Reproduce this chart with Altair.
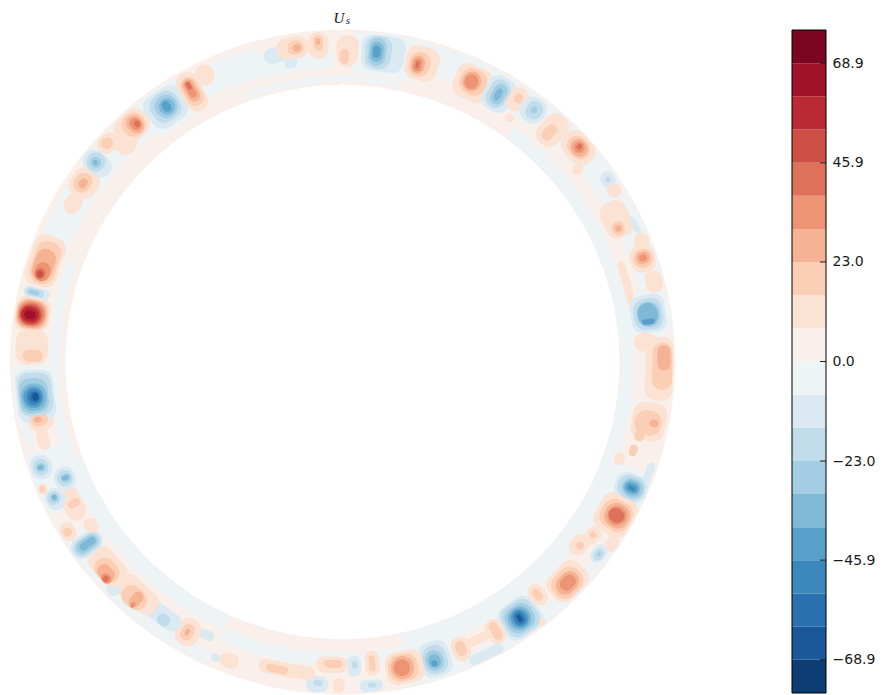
import altair as alt
import pandas as pd

LEVELS = [-76.6, -68.9, -61.3, -53.6, -45.9, -38.3, -30.6, -23.0, -15.3, -7.66, 0,
          7.66, 15.3, 23.0, 30.6, 38.3, 45.9, 53.6, 61.3, 68.9, 76.6]
COLORS = ["#0c3d74", "#1a5899", "#2a71b2", "#3b88bd", "#57a0ca", "#7eb9d7", "#a2cde3",
          "#c1ddec", "#dbeaf2", "#eef3f5", "#f9f0eb", "#fce2d3", "#fbceb6", "#f6b393",
          "#ed9475", "#dd715a", "#cd4e45", "#bb2a34", "#9f1228", "#7a0622"]
TICKS = [-68.9, -45.9, -23.0, 0.0, 23.0, 45.9, 68.9]

# rows: value, start angle, end angle (degrees clockwise from top), inner radius, outer radius
RING = [(4, 0, 360, 277, 332.5)]
BANDS = [
    (-4, 290, 345, 296, 326), (-4, 345, 358, 294, 318), (-4, 340, 372, 280, 286),
    (-4, 8, 38, 300, 330), (-4, 36, 76, 277, 291), (-4, 38, 76, 305, 331),
    (-4, 76, 108, 277, 292), (-4, 108, 168, 277, 298), (-4, 118, 168, 318, 331),
    (-4, 168, 204, 291, 304), (-4, 204, 250, 277, 293), (-4, 204, 240, 318, 331),
    (-4, 250, 290, 283, 293), (-4, 255, 268, 318, 327),
]
RIGHT_TOP = [
    (-4, 1.5, 14, 288, 331), (-11, 3.5, 11.5, 293, 329), (-19, 4.2, 9, 295, 328),
    (-27, 4.8, 8, 298, 326), (-34, 5.2, 7.5, 302, 322), (-42, 5.6, 7, 306, 318),
    (11, 11.8, 18, 292, 326), (19, 12.5, 16.5, 295, 320), (27, 13, 15.5, 298, 316),
    (34, 13.4, 15, 300, 313), (42, 13.8, 14.5, 303, 310),
    (11, 21.5, 28.5, 290, 325), (19, 22.5, 27.5, 296, 322), (27, 23, 26.5, 299, 319),
    (34, 23.4, 26, 301, 316),
    (-11, 27.5, 33, 292, 328), (-19, 28.2, 32, 295, 325), (-27, 29, 31.5, 299, 321),
    (-34, 29.6, 30.8, 303, 316),
    (11, 31.8, 35.5, 303, 328), (19, 33, 34.5, 312, 322), (11, 33.6, 35.2, 292, 300),
    (-11, 34.8, 39.5, 303, 329), (-19, 35.8, 38.8, 307, 326), (-27, 36.7, 37.8, 313, 320),
    (11, 39.8, 44.5, 295, 330), (19, 41, 43, 300, 318),
    (11, 44.5, 51, 305, 332), (19, 45.5, 50, 309, 329), (27, 46.2, 49.5, 311, 327),
    (34, 46.8, 48.8, 314, 325), (42, 47.3, 48.2, 317, 323), (11, 49.8, 51.6, 298, 310),
    (-11, 54, 57, 315, 329), (-19, 55, 56, 319, 325), (11, 56.5, 59, 314, 329),
    (11, 59, 66, 295, 323), (19, 62.8, 65.5, 300, 313), (27, 63.5, 64.8, 303, 310),
    (-11, 63.5, 66.5, 320, 326),
]
RIGHT = [
    (11, 66.5, 69.5, 315, 330), (11, 68.5, 73.5, 305, 330), (19, 69.3, 72.7, 308, 328),
    (27, 69.8, 72, 311, 325), (34, 70.3, 71.5, 314, 322), (11, 73.5, 77.5, 313, 330),
    (11, 70, 79, 291, 299),
    (-4, 76.5, 85.5, 288, 331), (-11, 77.5, 84.5, 292, 327), (-19, 78.2, 84, 295, 324),
    (-27, 78.8, 83.5, 298, 321), (-34, 79, 83.2, 299, 319), (-42, 82, 83, 302, 315),
    (11, 85.5, 97, 303, 331), (19, 86.5, 95, 310, 330), (27, 87, 91.5, 315, 328),
    (11, 84.5, 88, 292, 315),
    (11, 97.5, 104.5, 295, 329), (19, 99, 103.5, 298, 325), (27, 100.5, 101.8, 313, 322),
    (19, 102.5, 105, 301, 311), (19, 105.8, 108, 300, 308), (11, 108, 110.5, 288, 299),
]
RIGHT_BOTTOM = [
    (-4, 110, 117, 295, 332), (-11, 111, 116, 298, 331), (-19, 111.3, 115.7, 301, 329),
    (-27, 111.8, 115.2, 305, 327), (-34, 112.2, 114.8, 307, 324), (-42, 112.7, 114.3, 309, 322),
    (-50, 113.2, 113.9, 312, 319), (-11, 108, 112, 322, 330),
    (11, 115.5, 123, 294, 331), (19, 116.5, 122, 298, 329), (27, 117, 121.5, 302, 327),
    (34, 117.5, 121, 305, 324), (42, 118, 120.5, 306, 322),
    (11, 123, 126.5, 297, 312), (19, 124, 125.2, 301, 308), (11, 122.5, 125.5, 319, 331),
    (-11, 125, 128.5, 313, 327), (-19, 125.8, 128, 316, 325), (-27, 126.4, 127.2, 319, 322),
    (11, 125.5, 129.8, 290, 308), (19, 127, 128.5, 296, 304),
    (11, 130.5, 138, 298, 330), (19, 131.5, 137.5, 302, 328), (27, 132.2, 136.8, 306, 325),
    (34, 132.8, 136, 309, 322),
    (11, 138.5, 141.5, 292, 315), (19, 139.3, 140.8, 297, 310),
    (-4, 140.5, 150, 290, 331), (-11, 141.5, 149, 293, 330), (-19, 142, 148.5, 295, 328),
    (-27, 142.6, 148, 298, 325), (-34, 143.2, 147.5, 300, 323), (-42, 143.7, 147, 302, 321),
    (-50, 144.2, 146.5, 304, 319), (-57, 144.7, 146, 306, 317), (-65, 145, 145.7, 308, 315),
    (11, 141.8, 143.2, 325, 331),
    (11, 148.7, 152, 297, 323), (19, 149.5, 151.2, 300, 319), (11, 151, 156.5, 304, 313),
    (11, 155.8, 159.3, 298, 323), (19, 156.6, 158.5, 302, 318), (-11, 150.5, 157, 321, 331),
]
BOTTOM = [
    (-4, 159, 166.5, 289, 331), (-11, 159.8, 165.5, 293, 329), (-19, 160.5, 165, 297, 326),
    (-27, 161.2, 164.5, 302, 323), (-34, 161.8, 164, 306, 320), (-42, 162.5, 163.6, 312, 318),
    (11, 165, 172, 295, 328), (19, 166, 171.5, 298, 325), (27, 166.8, 171, 300, 323),
    (34, 167.5, 170.5, 303, 320),
    (11, 173, 175.7, 290, 315), (19, 173.8, 175, 295, 311),
    (-11, 176.5, 179, 294, 315), (-19, 177.2, 178.2, 299, 307),
    (-11, 172.8, 177, 319, 331), (-19, 174, 175.5, 322, 327),
    (11, 179.6, 181.7, 316, 331), (-11, 182.5, 186.5, 315, 331), (-19, 183.5, 185.2, 319, 325),
    (11, 179, 185, 295, 311), (19, 180, 183.5, 298, 306),
    (11, 185, 195.5, 306, 320), (19, 190, 194, 310, 318), (11, 199, 202.5, 312, 327),
]
LEFT_BOTTOM = [
    (-11, 202.5, 204, 318, 326), (-11, 205, 208, 300, 310),
    (11, 207.5, 212, 297, 325), (19, 208.7, 211, 303, 320), (27, 209.5, 210.3, 308, 315),
    (-11, 211.5, 221, 302, 320), (-19, 213.5, 216, 308, 320),
    (11, 217, 226, 298, 322), (19, 219, 224, 304, 325), (27, 220, 222, 306, 323),
    (34, 220.4, 221.2, 318, 324),
    (-11, 224, 226.5, 316, 329),
    (11, 225, 233, 298, 325), (19, 226, 231, 304, 325), (27, 226.5, 230, 310, 324),
    (34, 226.5, 228.5, 316, 325), (42, 227, 228, 318, 324),
    (-4, 232, 237.5, 294, 332), (-11, 232.5, 236.5, 297, 331), (-19, 232.9, 236, 299, 329),
    (-27, 233.3, 235.7, 302, 326), (-34, 233.8, 235.2, 304, 322),
    (11, 236.5, 240, 315, 330), (19, 237.5, 239, 319, 328), (11, 235.5, 238.5, 293, 307),
    (11, 239, 246, 295, 315), (19, 241.5, 243, 297, 310),
    (-4, 242, 254, 288, 331), (-11, 242.5, 246.5, 308, 328), (-19, 243.5, 246, 312, 326),
    (-27, 244, 245.5, 315, 322), (-34, 244.4, 245.3, 316, 321),
    (-11, 245, 249.5, 290, 312), (-19, 245.8, 248.8, 293, 309),
    (-27, 246.5, 248, 295, 305), (-34, 246.9, 247.8, 297, 304),
    (-11, 248.5, 253, 308, 330), (-19, 249.3, 252.3, 312, 327),
    (-27, 250, 251.5, 315, 324), (-34, 250.3, 251.2, 317, 323),
    (11, 246, 248, 321, 330), (19, 246.5, 247.6, 323, 329),
]
LEFT = [
    (11, 253.5, 257.5, 303, 315),
    (11, 257, 261.5, 294, 320), (19, 258, 260.5, 300, 317), (27, 258.8, 259.8, 306, 314),
    (-4, 258, 269.5, 287, 330), (-11, 259, 268.5, 290, 328), (-19, 260, 268, 292, 326),
    (-27, 260.5, 267, 296, 325), (-34, 261, 266, 298, 323), (-42, 261.5, 265.5, 301, 321),
    (-50, 262, 265, 303, 318), (-57, 262.5, 264.5, 305, 315), (-65, 262.8, 264.3, 306, 312),
    (11, 269.5, 276, 295, 327), (19, 270, 272.3, 300, 320),
    (11, 275.6, 282, 296, 331), (19, 276, 281.5, 298, 330), (27, 276.2, 281.3, 300, 329),
    (34, 276.5, 281, 301, 328), (42, 276.7, 280.7, 303, 327), (50, 276.9, 280.4, 305, 326),
    (57, 277.3, 280, 307, 325), (65, 277.8, 279.4, 310, 322),
    (-11, 281.7, 283.7, 300, 327), (-19, 282, 283.4, 306, 325), (-27, 282.3, 283.1, 311, 322),
    (11, 284, 293.5, 298, 330), (19, 284.5, 292.5, 301, 326), (27, 285, 291, 304, 324),
    (34, 285, 288.5, 306, 321), (42, 285.3, 287.3, 310, 320), (50, 285.6, 286.8, 312, 318),
]
LEFT_TOP = [
    (11, 298.5, 302.5, 304, 321),
    (11, 302, 307.5, 300, 328), (19, 302.8, 306.5, 307, 324), (27, 303.6, 305.5, 311, 319),
    (-11, 307, 311, 300, 331), (-19, 307.3, 310.8, 308, 327), (-27, 308, 310, 312, 323),
    (-34, 308.5, 309.3, 315, 320),
    (11, 311, 315, 312, 330), (19, 311.8, 314, 316, 327), (11, 313, 317.5, 297, 322),
    (11, 315, 321.5, 302, 330), (19, 316.5, 320.8, 304, 328), (27, 317.5, 320.3, 306, 325),
    (34, 318, 320, 309, 322), (42, 318.7, 319.7, 311, 318),
    (-4, 320.5, 330, 288, 331), (-11, 321.5, 329, 292, 328), (-19, 322.5, 328, 296, 325),
    (-27, 323.3, 327.5, 299, 322), (-34, 324, 327, 302, 318), (-42, 324.7, 326.2, 305, 316),
    (11, 328.8, 333, 288, 330), (19, 329.3, 332.5, 294, 325), (27, 329.8, 332, 299, 323),
    (34, 330.2, 331.5, 303, 321), (42, 330.5, 331.3, 312, 320),
    (11, 332.8, 336, 308, 329),
]
TOP = [
    (-11, 345.5, 349.5, 306, 322), (-11, 349, 351.5, 298, 310),
    (11, 348, 354, 307, 329), (19, 350, 353, 311, 325), (27, 351, 352.5, 314, 321),
    (11, 353.8, 357.5, 304, 331), (19, 354.8, 356.5, 312, 328), (27, 355.2, 356, 318, 325),
    (11, 358.9, 363, 295, 327), (19, 359.5, 361.2, 298, 313),
]

COLS = ["v", "t0", "t1", "r0", "r1"]
base = pd.DataFrame(RING + BANDS, columns=COLS)
blobs = pd.DataFrame(RIGHT_TOP + RIGHT + RIGHT_BOTTOM + BOTTOM + LEFT_BOTTOM + LEFT + LEFT_TOP + TOP,
                     columns=COLS)
blobs["a"] = blobs["v"].abs()
blobs = blobs.sort_values("a", kind="stable").reset_index(drop=True)

bar = pd.DataFrame({"lo": LEVELS[:-1], "hi": LEVELS[1:]})
bar["v"] = (bar["lo"] + bar["hi"]) / 2

color_scale = alt.Scale(type="threshold", domain=LEVELS[1:-1], range=COLORS)
theta_scale = alt.Scale(domain=[0, 360], range=[0, 6.283185307])
radius_scale = alt.Scale(domain=[0, 332.5], range=[0, 332.5])
y_scale = alt.Scale(domain=[LEVELS[0], LEVELS[-1]], range=[685, 22], nice=False, zero=False)


def arcs(df, **mark):
    return alt.Chart(df).mark_arc(**mark).encode(
        x=alt.value(334.5),
        y=alt.value(354),
        theta=alt.Theta("t0:Q", scale=theta_scale, stack=None),
        theta2="t1:Q",
        radius=alt.Radius("r1:Q", scale=radius_scale),
        radius2="r0:Q",
        color=alt.Color("v:Q", scale=color_scale, legend=None),
    )


base_layer = arcs(base, cornerRadius=3)
blob_layer = arcs(blobs, cornerRadius=11)

y_axis = alt.Axis(
    orient="right",
    values=TICKS,
    tickSize=0,
    domain=False,
    grid=False,
    labelPadding=6,
    labelFont="DejaVu Sans",
    labelFontSize=14,
    labelColor="#1a1a1a",
    labelExpr="replace(format(datum.value, '.1f'), '-', '\u2212')",
)

bar_layer = alt.Chart(bar).mark_rect().encode(
    x=alt.value(784),
    x2=alt.value(818),
    y=alt.Y("lo:Q", scale=y_scale, title=None, axis=y_axis),
    y2="hi:Q",
    color=alt.Color("v:Q", scale=color_scale, legend=None),
)

tick_layer = alt.Chart(pd.DataFrame({"t": TICKS})).mark_rule(color="#222222", strokeWidth=1).encode(
    x=alt.value(812), x2=alt.value(818), y=alt.Y("t:Q", scale=y_scale, title=None, axis=y_axis)
)

frame_layer = alt.Chart(pd.DataFrame({"lo": [LEVELS[0]], "hi": [LEVELS[-1]]})).mark_rect(
    fillOpacity=0, stroke="#000000", strokeWidth=1
).encode(
    x=alt.value(784), x2=alt.value(818),
    y=alt.Y("lo:Q", scale=y_scale, title=None, axis=y_axis), y2="hi:Q"
)

title_u = alt.Chart(pd.DataFrame({"s": ["U"]})).mark_text(
    font="Liberation Serif", fontStyle="italic", fontSize=15, color="#111111"
).encode(x=alt.value(331), y=alt.value(10), text="s:N")
title_s = alt.Chart(pd.DataFrame({"s": ["s"]})).mark_text(
    font="Liberation Serif", fontStyle="italic", fontSize=11, color="#111111"
).encode(x=alt.value(340), y=alt.value(13), text="s:N")

chart = alt.layer(
    base_layer, blob_layer, bar_layer, tick_layer, frame_layer, title_u, title_s
).properties(
    width=818,
    height=687,
    padding={"left": 0, "top": 0, "right": 49, "bottom": 0},
    autosize=alt.AutoSizeParams(type="none"),
).configure_view(stroke=None).resolve_scale(color="shared")

chart.save("out.html", embed_options={"renderer": "svg", "actions": False})
